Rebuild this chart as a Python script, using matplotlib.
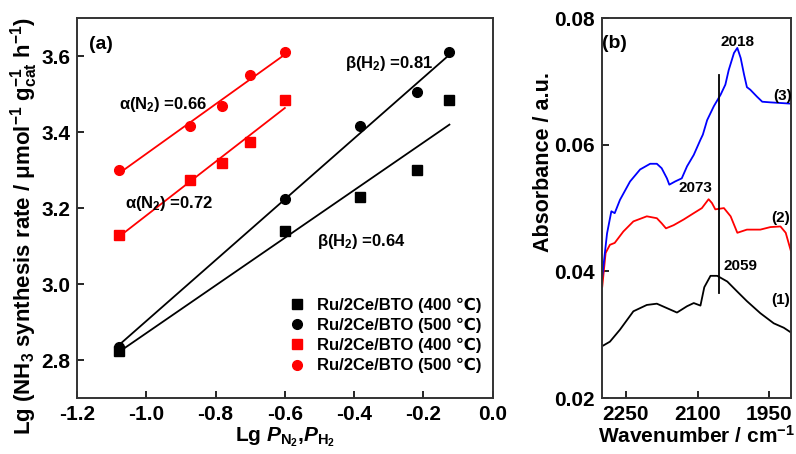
import matplotlib
matplotlib.use("Agg")
import matplotlib.pyplot as plt
import numpy as np

plt.rcParams['font.family'] = ['Liberation Sans', 'DejaVu Sans']
plt.rcParams['font.weight'] = 'bold'
plt.rcParams['axes.labelweight'] = 'bold'
plt.rcParams['mathtext.fontset'] = 'custom'
plt.rcParams['mathtext.rm'] = 'Liberation Sans:bold'
plt.rcParams['mathtext.bf'] = 'Liberation Sans:bold'
plt.rcParams['mathtext.it'] = 'Liberation Sans:italic:bold'

# ---- panel (a): kinetic orders ----
x_n2 = [-1.08, -0.875, -0.78, -0.70, -0.60]
y_n2_400 = [3.13, 3.275, 3.32, 3.375, 3.485]
y_n2_500 = [3.30, 3.415, 3.47, 3.55, 3.61]

x_h2 = [-1.08, -0.60, -0.383, -0.22, -0.125]
y_h2_400 = [2.825, 3.14, 3.23, 3.30, 3.485]
y_h2_500 = [2.835, 3.225, 3.415, 3.505, 3.61]

legend_labels = ["Ru/2Ce/BTO (400 ℃)", "Ru/2Ce/BTO (500 ℃)",
                 "Ru/2Ce/BTO (400 ℃)", "Ru/2Ce/BTO (500 ℃)"]
xticks_a = [-1.2, -1.0, -0.8, -0.6, -0.4, -0.2, 0.0]
xticklabels_a = ["-1.2", "-1.0", "-0.8", "-0.6", "-0.4", "-0.2", "0.0"]
yticks_a = [2.8, 3.0, 3.2, 3.4, 3.6]

# ---- panel (b): IR spectra ----
wn_1 = [2299, 2283, 2262, 2234, 2206, 2185, 2164, 2143, 2122, 2108, 2094, 2086,
        2073, 2059, 2038, 2017, 1997, 1969, 1941, 1920, 1904]
ab_1 = [0.0282, 0.0289, 0.0308, 0.0337, 0.0347, 0.0349, 0.0342, 0.0335, 0.0345,
        0.0350, 0.0346, 0.0375, 0.0393, 0.0393, 0.0384, 0.0368, 0.0353, 0.0334,
        0.0318, 0.0311, 0.0303]

wn_2 = [2299, 2292, 2283, 2273, 2255, 2234, 2206, 2185, 2175, 2166, 2150, 2129,
        2108, 2091, 2077, 2070, 2063, 2045, 2031, 2017, 1997, 1969, 1948, 1927,
        1916, 1904]
ab_2 = [0.0376, 0.0429, 0.0442, 0.0445, 0.0463, 0.0479, 0.0487, 0.0484, 0.0476,
        0.0468, 0.0473, 0.0482, 0.0492, 0.0500, 0.0514, 0.0508, 0.0498, 0.0500,
        0.0487, 0.0461, 0.0466, 0.0466, 0.0470, 0.0471, 0.0461, 0.0429]

wn_3 = [2299, 2289, 2280, 2273, 2262, 2241, 2220, 2199, 2185, 2175, 2164, 2159,
        2147, 2133, 2122, 2108, 2094, 2089, 2080, 2066, 2052, 2042, 2035, 2024,
        2017, 2010, 2003, 1997, 1990, 1976, 1965, 1948, 1927, 1906]
ab_3 = [0.0392, 0.0460, 0.0495, 0.0492, 0.0513, 0.0542, 0.0561, 0.0570, 0.0570,
        0.0563, 0.0547, 0.0537, 0.0542, 0.0547, 0.0566, 0.0584, 0.0608, 0.0616,
        0.0639, 0.0661, 0.0679, 0.0695, 0.0718, 0.0745, 0.0753, 0.0737, 0.0711,
        0.0691, 0.0687, 0.0676, 0.0668, 0.0667, 0.0666, 0.0665]

xticks_b = [2250, 2100, 1950]
yticks_b = [0.02, 0.04, 0.06, 0.08]

fig = plt.figure(figsize=(7.96, 4.54), dpi=100)
ax1 = fig.add_axes([0.0967, 0.1233, 0.5223, 0.8367])
ax2 = fig.add_axes([0.756, 0.1233, 0.2377, 0.8367])

def fit_line(ax, x, y, color):
    k, b = np.polyfit(x, y, 1)
    xs = np.array([min(x), max(x)])
    ax.plot(xs, k * xs + b, color=color, lw=1.3, zorder=2)

fit_line(ax1, x_h2, y_h2_400, 'black')
fit_line(ax1, x_h2, y_h2_500, 'black')
fit_line(ax1, x_n2, y_n2_400, 'red')
fit_line(ax1, x_n2, y_n2_500, 'red')

ax1.plot(x_h2, y_h2_400, 's', color='black', ms=6.5, ls='none', label=legend_labels[0], zorder=3)
ax1.plot(x_h2, y_h2_500, 'o', color='black', ms=7, ls='none', label=legend_labels[1], zorder=3)
ax1.plot(x_n2, y_n2_400, 's', color='red', ms=6.5, ls='none', label=legend_labels[2], zorder=3)
ax1.plot(x_n2, y_n2_500, 'o', color='red', ms=7, ls='none', label=legend_labels[3], zorder=3)

ax1.text(-1.165, 3.62, "(a)", fontsize=14, fontweight='bold')
ax1.text(-1.08, 3.46, r"α(N$_2$) =0.66", fontsize=12)
ax1.text(-1.06, 3.20, r"α(N$_2$) =0.72", fontsize=12)
ax1.text(-0.425, 3.57, r"β(H$_2$) =0.81", fontsize=12)
ax1.text(-0.507, 3.10, r"β(H$_2$) =0.64", fontsize=12)

ax1.set_xlim(-1.2, 0.0)
ax1.set_ylim(2.7, 3.7)
ax1.set_xticks(xticks_a, xticklabels_a, fontweight='bold')
ax1.set_yticks(yticks_a, [f"{v:.1f}" for v in yticks_a], fontweight='bold')
ax1.set_xlabel(r"Lg $P_{\mathrm{N_2}}$,$P_{\mathrm{H_2}}$", fontsize=15, labelpad=1)
fig.text(0.03, 0.502,
         r"Lg (NH$_3$ synthesis rate / μmol$^{-1}$ g$^{-1}_{\mathrm{cat}}$ h$^{-1}$)",
         fontsize=16, fontweight='bold', rotation=90, ha='center', va='center')
ax1.legend(loc='lower right', bbox_to_anchor=(1.0, 0.034), frameon=False, fontsize=12,
           handletextpad=0.6, labelspacing=0.3, borderaxespad=0.3, handlelength=1.2)

# panel (b)
ax2.plot(wn_1, ab_1, color='black', lw=1.3)
ax2.plot(wn_2, ab_2, color='red', lw=1.3)
ax2.plot(wn_3, ab_3, color='blue', lw=1.3)
ax2.plot([2055, 2055], [0.0366, 0.0711], color='black', lw=1.3)

ax2.text(2017, 0.0763, "2018", fontsize=11, ha='center', va='center')
ax2.text(2105, 0.0532, "2073", fontsize=11, ha='center', va='center')
ax2.text(2010, 0.0408, "2059", fontsize=11, ha='center', va='center')
ax2.text(1923, 0.0677, "(3)", fontsize=11, ha='center', va='center')
ax2.text(1927, 0.0484, "(2)", fontsize=11, ha='center', va='center')
ax2.text(1927, 0.0355, "(1)", fontsize=11, ha='center', va='center')
ax2.text(2273, 0.0760, "(b)", fontsize=14, ha='center', va='center')

ax2.set_xlim(2300, 1905)
ax2.set_ylim(0.02, 0.08)
ax2.set_xticks(xticks_b, [str(v) for v in xticks_b], fontweight='bold')
ax2.set_yticks(yticks_b, [f"{v:.2f}" for v in yticks_b], fontweight='bold')
ax2.set_xlabel(r"Wavenumber / cm$^{-1}$", fontsize=15, labelpad=1)
fig.text(0.683, 0.643, "Absorbance / a.u.", fontsize=15.5, fontweight='bold',
         rotation=90, ha='center', va='center')

for ax in (ax1, ax2):
    ax.tick_params(direction='in', length=5, width=1.2, labelsize=15, pad=5)
    for sp in ax.spines.values():
        sp.set_linewidth(1.4)
        sp.set_color('#333333')

fig.savefig("out.png", dpi=100)
